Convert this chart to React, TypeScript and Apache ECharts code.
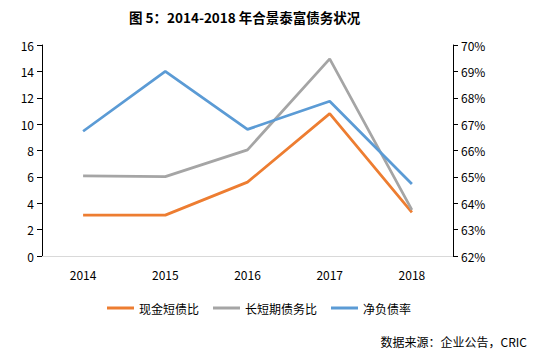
import React, { useEffect, useRef } from "react";
import * as echarts from "echarts";

const years = ["2014", "2015", "2016", "2017", "2018"];
const cashShortDebt = [3.1, 3.1, 5.6, 10.8, 3.3];
const longShortDebt = [6.07, 6.02, 8.05, 14.95, 3.5];
const netDebtRatio = [66.73, 69.0, 66.8, 67.87, 64.73];
const leftTicks = { min: 0, max: 16, interval: 2 };
const rightTicks = { min: 62, max: 70, interval: 1 };
const seriesNames = ["现金短债比", "长短期债务比", "净负债率"];
const colors = ["#ED7D31", "#A5A5A5", "#5B9BD5"];

const FONT = "'Noto Sans CJK SC', 'Noto Sans', sans-serif";

export default function App() {
  const ref = useRef<HTMLDivElement>(null);
  useEffect(() => {
    if (!ref.current) return;
    const chart = echarts.init(ref.current, undefined, { renderer: "svg" });
    chart.setOption({
      animation: false,
      backgroundColor: "#fff",
      textStyle: { fontFamily: FONT },
      title: {
        text: "图 5：2014-2018 年合景泰富债务状况",
        left: 124,
        top: 5,
        textStyle: { fontFamily: FONT, fontSize: 13.5, fontWeight: "bold", color: "#000" },
      },
      graphic: [
        {
          type: "text",
          right: 12,
          top: 335,
          style: { text: "数据来源：企业公告，CRIC", fontFamily: FONT, fontSize: 12, fill: "#000" },
        },
      ],
      legend: {
        top: 297,
        left: 102,
        icon: "rect",
        itemWidth: 27,
        itemHeight: 3,
        itemGap: 14,
        textStyle: { fontFamily: FONT, fontSize: 12, color: "#000" },
        data: seriesNames,
      },
      grid: { left: 42, right: 86, top: 45, bottom: 100 },
      xAxis: {
        type: "category",
        data: years,
        boundaryGap: true,
        axisLine: { lineStyle: { color: "#D9D9D9", width: 1 } },
        axisTick: { show: false },
        axisLabel: { color: "#000", fontSize: 12, fontFamily: FONT, margin: 12 },
      },
      yAxis: [
        {
          type: "value",
          position: "left",
          ...leftTicks,
          axisLine: { show: true, lineStyle: { color: "#000", width: 1 } },
          axisTick: { show: true, length: 5, lineStyle: { color: "#000" } },
          splitLine: { show: false },
          axisLabel: { color: "#000", fontSize: 12, fontFamily: FONT, margin: 8 },
        },
        {
          type: "value",
          position: "right",
          ...rightTicks,
          axisLine: { show: true, lineStyle: { color: "#000", width: 1 } },
          axisTick: { show: true, length: 5, lineStyle: { color: "#000" } },
          splitLine: { show: false },
          axisLabel: { color: "#000", fontSize: 12, fontFamily: FONT, margin: 8, formatter: "{value}%" },
        },
      ],
      series: [
        {
          name: seriesNames[0],
          type: "line",
          data: cashShortDebt,
          yAxisIndex: 0,
          symbol: "none",
          lineStyle: { color: colors[0], width: 2.75 },
          itemStyle: { color: colors[0] },
        },
        {
          name: seriesNames[1],
          type: "line",
          data: longShortDebt,
          yAxisIndex: 0,
          symbol: "none",
          lineStyle: { color: colors[1], width: 2.75 },
          itemStyle: { color: colors[1] },
        },
        {
          name: seriesNames[2],
          type: "line",
          data: netDebtRatio,
          yAxisIndex: 1,
          symbol: "none",
          lineStyle: { color: colors[2], width: 2.75 },
          itemStyle: { color: colors[2] },
        },
      ],
    });
    return () => chart.dispose();
  }, []);
  return <div ref={ref} style={{ width: 539, height: 356, position: "absolute", left: 0, top: 0 }} />;
}
